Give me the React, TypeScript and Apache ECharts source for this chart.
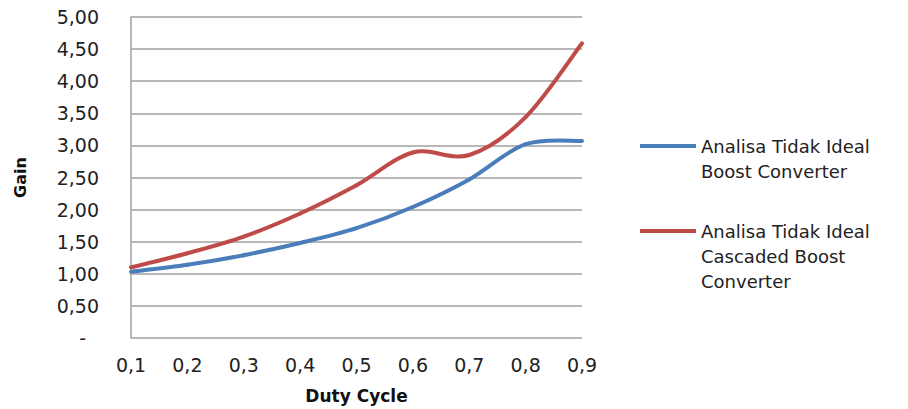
import React, { useEffect, useRef } from "react";
import * as echarts from "echarts";

// Duty cycle categories (x axis)
const dutyCycle = ["0,1", "0,2", "0,3", "0,4", "0,5", "0,6", "0,7", "0,8", "0,9"];

// Gain values per duty cycle
const boostGain = [1.03, 1.14, 1.29, 1.48, 1.71, 2.04, 2.47, 3.02, 3.07];
const cascadedGain = [1.1, 1.32, 1.58, 1.94, 2.38, 2.89, 2.85, 3.44, 4.59];

const boostName = "Analisa Tidak Ideal\nBoost Converter";
const cascadedName = "Analisa Tidak Ideal\nCascaded Boost\nConverter";

const BLUE = "#4a7ebb";
const RED = "#be4b48";
const FONT = "DejaVu Sans";
const LINE_H = 25;

// Smoothed line through the points (Catmull-Rom segments as cubic Béziers),
// positioned with the grid's own coordinate system.
function smoothLine(values: number[], color: string) {
  return (params: any, api: any) => {
    if (params.dataIndex !== 0) return null;
    const pts = values.map((v, i) => api.coord([i, v]));
    const children = [];
    for (let i = 0; i < pts.length - 1; i++) {
      const p0 = pts[Math.max(i - 1, 0)];
      const p1 = pts[i];
      const p2 = pts[i + 1];
      const p3 = pts[Math.min(i + 2, pts.length - 1)];
      children.push({
        type: "bezierCurve",
        shape: {
          x1: p1[0],
          y1: p1[1],
          cpx1: p1[0] + (p2[0] - p0[0]) / 6,
          cpy1: p1[1] + (p2[1] - p0[1]) / 6,
          cpx2: p2[0] - (p3[0] - p1[0]) / 6,
          cpy2: p2[1] - (p3[1] - p1[1]) / 6,
          x2: p2[0],
          y2: p2[1],
        },
        style: { stroke: color, lineWidth: 4, fill: null, lineCap: "round" },
      });
    }
    return { type: "group", children };
  };
}

export default function App() {
  const ref = useRef<HTMLDivElement>(null);

  useEffect(() => {
    if (!ref.current) return;
    const chart = echarts.init(ref.current, null, { renderer: "svg" });
    // blank lines above keep the legend line level with the first text line
    const legendBase = {
      left: 640,
      padding: 0,
      itemWidth: 56,
      itemHeight: 4,
      icon: "rect",
      textStyle: { fontFamily: FONT, fontSize: 18, color: "#222", lineHeight: LINE_H },
      formatter: (name: string) => "\n".repeat(name.split("\n").length - 1) + name,
    };
    chart.setOption({
      animation: false,
      backgroundColor: "#fff",
      grid: { left: 131, right: 326, top: 17, bottom: 63 },
      legend: [
        { ...legendBase, data: [boostName], top: 146 - 1.5 * LINE_H },
        { ...legendBase, data: [cascadedName], top: 231 - 2.5 * LINE_H },
      ],
      xAxis: {
        type: "category",
        data: dutyCycle,
        boundaryGap: false,
        name: "Duty Cycle",
        nameLocation: "middle",
        nameGap: 49,
        nameTextStyle: { fontFamily: FONT, fontSize: 17, fontWeight: "bold", color: "#111" },
        axisLine: { show: false },
        axisTick: { show: false },
        axisLabel: { fontFamily: FONT, fontSize: 19, color: "#222", margin: 17 },
        splitLine: { show: false },
      },
      yAxis: {
        type: "value",
        min: 0,
        max: 5,
        interval: 0.5,
        name: "Gain",
        nameLocation: "middle",
        nameGap: 103,
        nameRotate: 90,
        nameTextStyle: { fontFamily: FONT, fontSize: 16, fontWeight: "bold", color: "#111" },
        axisLine: { show: true, lineStyle: { color: "#a0a0a0", width: 1.5 } },
        axisTick: { show: false },
        axisLabel: {
          fontFamily: FONT,
          fontSize: 19,
          color: "#222",
          margin: 32,
          formatter: (v: number) => (v === 0 ? "{dash|-}" : v.toFixed(2).replace(".", ",")),
          rich: { dash: { fontFamily: FONT, fontSize: 19, color: "#222", padding: [0, 13, 0, 0] } },
        },
        splitLine: { lineStyle: { color: "#a0a0a0", width: 1.5 } },
      },
      series: [
        {
          name: boostName,
          type: "custom",
          data: boostGain.map((v, i) => [i, v]),
          encode: { x: 0, y: 1 },
          renderItem: smoothLine(boostGain, BLUE),
          itemStyle: { color: BLUE },
        },
        {
          name: cascadedName,
          type: "custom",
          data: cascadedGain.map((v, i) => [i, v]),
          encode: { x: 0, y: 1 },
          renderItem: smoothLine(cascadedGain, RED),
          itemStyle: { color: RED },
        },
      ],
    });
    return () => chart.dispose();
  }, []);

  return (
    <div
      ref={ref}
      style={{ position: "absolute", left: 0, top: 0, width: 908, height: 409 }}
    />
  );
}
